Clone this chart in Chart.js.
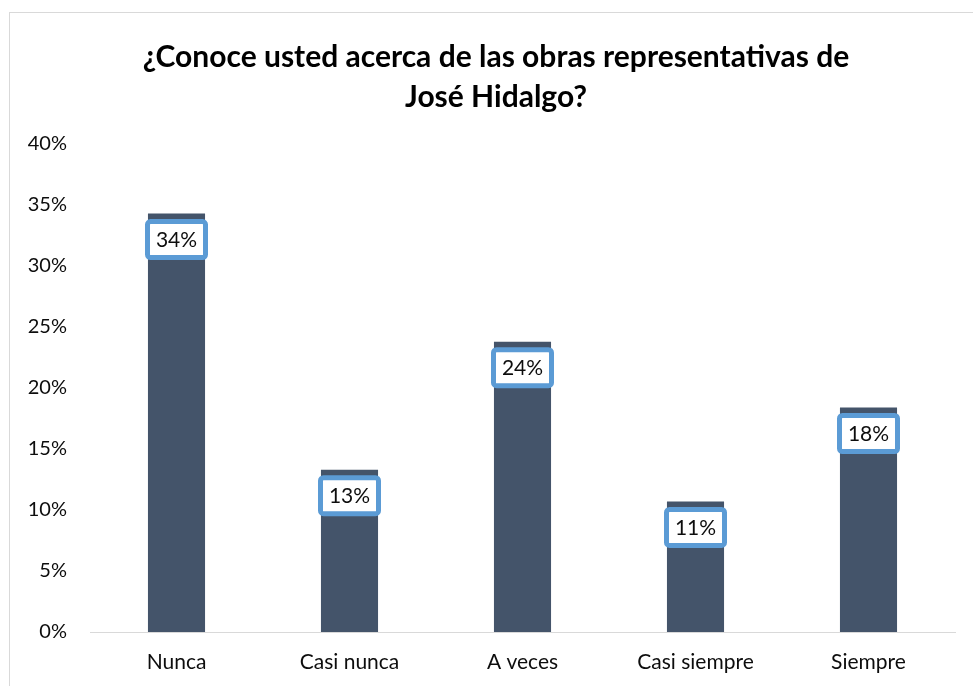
<!DOCTYPE html>
<html>
<head>
<meta charset="utf-8">
<script src="https://cdn.jsdelivr.net/npm/chart.js@4/dist/chart.umd.min.js"></script>
<style>
  html, body { margin: 0; padding: 0; background: #fff; overflow: hidden; }
  #box {
    position: absolute; left: 9px; top: 12px;
    width: 990px; height: 700px;
    border: 1px solid #d9d9d9; background: #fff;
  }
  #wrap { position: absolute; left: 0; top: 0; width: 972px; height: 673px; }
</style>
</head>
<body>
<div id="box"><div id="wrap"><canvas id="myChart"></canvas></div></div>
<script>
const categories = ["Nunca", "Casi nunca", "A veces", "Casi siempre", "Siempre"];
const values = [34.3, 13.3, 23.8, 10.7, 18.4];
const valueLabels = ["34%", "13%", "24%", "11%", "18%"];
const titleLines = ["¿Conoce usted acerca de las obras representativas de", "José Hidalgo?"];

const FONT = "Lato, 'Liberation Sans', sans-serif";

// draws the boxed value labels just under each bar top
const boxLabels = {
  id: "boxLabels",
  afterDatasetsDraw(chart) {
    const ctx = chart.ctx;
    const meta = chart.getDatasetMeta(0);
    ctx.save();
    ctx.font = "21px " + FONT;
    ctx.textAlign = "center";
    ctx.textBaseline = "middle";
    meta.data.forEach((bar, i) => {
      const cx = bar.x;
      const cy = bar.y + 26;
      const w = 58, h = 36, r = 3;
      ctx.beginPath();
      ctx.roundRect(cx - w / 2, cy - h / 2, w, h, r);
      ctx.fillStyle = "#ffffff";
      ctx.fill();
      ctx.lineWidth = 5;
      ctx.strokeStyle = "#5B9BD5";
      ctx.stroke();
      ctx.fillStyle = "#0d0d0d";
      ctx.fillText(valueLabels[i], cx, cy + 1);
    });
    ctx.restore();
  },
};

const ctx1 = document.getElementById("myChart").getContext("2d");
const myChart = new Chart(ctx1, {
  type: "bar",
  data: {
    labels: categories,
    datasets: [
      {
        data: values,
        backgroundColor: "#44546A",
        categoryPercentage: 1,
        barPercentage: 0.33,
      },
    ],
  },
  options: {
    responsive: true,
    maintainAspectRatio: false,
    animation: false,
    layout: {
      padding: { left: 0, right: 0, top: 0, bottom: 0 },
    },
    plugins: {
      legend: { display: false },
      tooltip: { enabled: false },
      title: {
        display: true,
        text: titleLines,
        color: "#000000",
        font: { family: FONT, size: 30, weight: "bold", lineHeight: 1.333 },
        padding: { top: 24, bottom: 27 },
      },
    },
    scales: {
      x: {
        grid: { display: false },
        border: { display: true, color: "#d9d9d9", width: 1 },
        ticks: {
          color: "#0d0d0d",
          font: { family: FONT, size: 21 },
          padding: 10,
        },
        afterFit: (scale) => { scale.height = 54; },
      },
      y: {
        min: 0,
        max: 40,
        grid: { display: false },
        border: { display: false },
        ticks: {
          stepSize: 5,
          color: "#0d0d0d",
          font: { family: FONT, size: 20 },
          padding: 15,
          callback: (v) => v + "%",
        },
        afterFit: (scale) => { scale.width = 80; },
      },
      // empty right axis, only keeps a margin on the right
      yRight: {
        position: "right",
        min: 0,
        max: 1,
        grid: { display: false },
        border: { display: false },
        ticks: { display: false },
        afterFit: (scale) => { scale.width = 27; },
      },
    },
  },
  plugins: [boxLabels],
});
</script>
</body>
</html>
